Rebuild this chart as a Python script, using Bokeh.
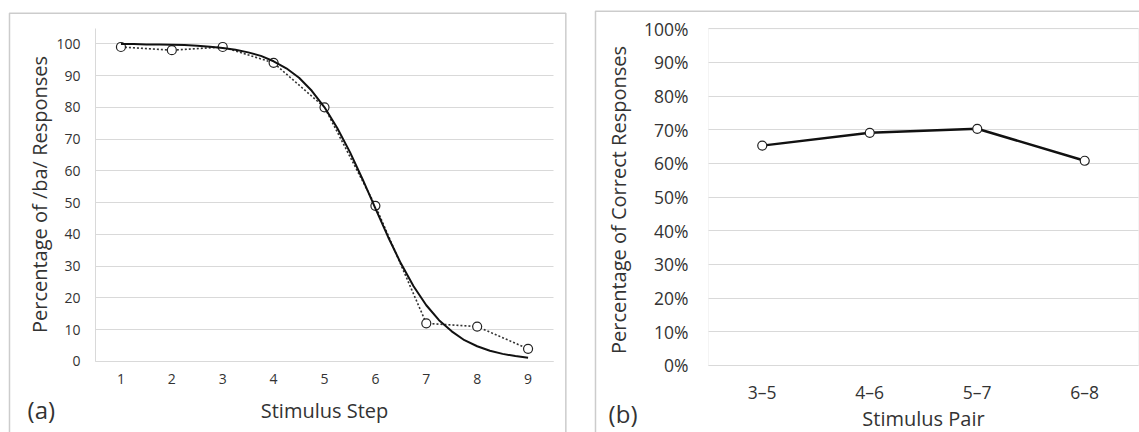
import math
from bokeh.plotting import figure
from bokeh.models import Range1d, FixedTicker, Label, BoxAnnotation, PrintfTickFormatter
from bokeh.layouts import row
from bokeh.embed import file_html
from bokeh.resources import INLINE

# ---------------- data ----------------
steps = [1, 2, 3, 4, 5, 6, 7, 8, 9]
ba_pct = [99, 98, 99, 94, 80, 49, 12, 11, 4]

fit_x = [1, 1.25, 1.5, 1.75, 2, 2.25, 2.5, 2.75, 3, 3.25, 3.5, 3.75, 4, 4.25, 4.5, 4.75,
         5, 5.25, 5.5, 5.75, 6, 6.25, 6.5, 6.75, 7, 7.25, 7.5, 7.75, 8, 8.25, 8.5, 8.75, 9]
fit_y = [99.9, 99.9, 99.8, 99.8, 99.7, 99.6, 99.4, 99.1, 98.7, 98.1, 97.3, 96.2, 94.5, 92.3,
         89.3, 85.2, 80.0, 73.5, 65.9, 57.3, 48.2, 39.2, 30.9, 23.7, 17.7, 13.0, 9.5, 6.7,
         4.8, 3.4, 2.4, 1.7, 1.2]

pairs = ["3\u20135", "4\u20136", "5\u20137", "6\u20138"]
correct_pct = [65.3, 69.1, 70.3, 60.8]

y_ticks_a = list(range(0, 101, 10))
y_ticks_b = list(range(0, 101, 10))

FONT = "Open Sans"
TXT = "#333333"
GRID = "#d9d9d9"
BORDER = "#555555"


def base_fig(w, h, xr, yr, tick_size):
    p = figure(width=w, height=h, x_range=Range1d(*xr), y_range=Range1d(*yr),
               output_backend="svg", toolbar_location=None,
               min_border_left=0, min_border_right=0, min_border_top=0, min_border_bottom=0)
    p.outline_line_color = None
    p.background_fill_color = "white"
    p.border_fill_color = "white"
    for ax in (p.xaxis[0], p.yaxis[0]):
        ax.major_tick_line_color = None
        ax.minor_tick_line_color = None
        ax.major_tick_out = 0
        ax.major_tick_in = 0
        ax.minor_tick_out = 0
        ax.minor_tick_in = 0
        ax.major_label_text_font = FONT
        ax.major_label_text_font_size = tick_size
        ax.major_label_text_color = TXT
    p.xgrid.grid_line_color = None
    return p


def hgrid(p, ticks, x0, x1):
    p.ygrid.ticker = FixedTicker(ticks=ticks)
    p.ygrid.grid_line_color = GRID
    p.ygrid.grid_line_width = 1
    try:
        p.ygrid.cross_bounds = (x0, x1)
    except Exception:
        p.ygrid.grid_line_color = None
        p.segment(x0=[x0] * len(ticks), x1=[x1] * len(ticks), y0=ticks, y1=ticks,
                  line_color=GRID, line_width=1, level="underlay")


def text(p, x, y, s, size, angle=0.0):
    p.add_layout(Label(x=x, y=y, text=s, angle=angle, text_align="center",
                       text_baseline="middle", text_font=FONT,
                       text_font_size=size, text_color=TXT))


# ---------------- panel (a) ----------------
p1 = base_fig(580, 432, (-1.3668, 10.0304), (-22.35, 113.63), "14px")
p1.xaxis.fixed_location = 0
p1.yaxis.fixed_location = 0.5
p1.xaxis.bounds = (0.5, 9.5)
p1.yaxis.bounds = (0, 104.8)
p1.xaxis.ticker = FixedTicker(ticks=steps)
p1.yaxis.ticker = FixedTicker(ticks=y_ticks_a)
p1.xaxis.axis_line_color = GRID
p1.yaxis.axis_line_color = GRID
p1.xaxis.major_label_standoff = 13
p1.yaxis.major_label_standoff = 15
hgrid(p1, y_ticks_a, 0.5, 9.5)

p1.line(steps, ba_pct, line_color="#333333", line_width=1.6, line_dash="2 2")
p1.scatter(steps, ba_pct, marker="circle", size=9, fill_color="white",
           line_color="#222222", line_width=1.2)
p1.line(fit_x, fit_y, line_color="#111111", line_width=2)

p1.add_layout(BoxAnnotation(left=-1.19, right=9.742, top=109.63, bottom=-60,
                            fill_alpha=0, fill_color=None, line_color=BORDER, line_width=1.5))
text(p1, -0.60, 52.57, "Percentage of /ba/ Responses", "20px", math.pi / 2)
text(p1, 5.0, -15.4, "Stimulus Step", "20px")
text(p1, -0.565, -15.1, "(a)", "24px")

# ---------------- panel (b) ----------------
pair_pos = list(range(1, len(pairs) + 1))
p2 = base_fig(559, 432, (-0.6907, 4.5093), (-19.9, 108.4), "17.5px")
p2.xaxis.fixed_location = 0
p2.yaxis.fixed_location = 0.5
p2.xaxis.bounds = (0.5, 4.5)
p2.yaxis.bounds = (0, 100)
p2.xaxis.ticker = FixedTicker(ticks=pair_pos)
p2.xaxis.major_label_overrides = {i: s for i, s in zip(pair_pos, pairs)}
p2.yaxis.ticker = FixedTicker(ticks=y_ticks_b)
p2.yaxis.formatter = PrintfTickFormatter(format="%d%%")
p2.xaxis.axis_line_color = None
p2.yaxis.axis_line_color = None
p2.xaxis.major_label_standoff = 15
p2.yaxis.major_label_standoff = 20
hgrid(p2, y_ticks_b, 0.5, 4.5)
p2.add_layout(BoxAnnotation(left=0.5, right=4.5, top=100, bottom=0, fill_alpha=0,
                            fill_color=None, line_color=GRID, line_width=1, level="underlay"))

p2.line(pair_pos, correct_pct, line_color="#111111", line_width=2.5)
p2.scatter(pair_pos, correct_pct, marker="circle", size=9, fill_color="white",
           line_color="#222222", line_width=1.2)

p2.add_layout(BoxAnnotation(left=-0.5512, right=10, top=105.23, bottom=-60,
                            fill_alpha=0, fill_color=None, line_color=BORDER, line_width=1.5))
text(p2, -0.337, 49.15, "Percentage of Correct Responses", "20px", math.pi / 2)
text(p2, 2.5, -15.6, "Stimulus Pair", "20px")
text(p2, -0.295, -14.26, "(b)", "24px")

layout = row(p1, p2, spacing=0)
open("out.html", "w").write(file_html(layout, INLINE))
